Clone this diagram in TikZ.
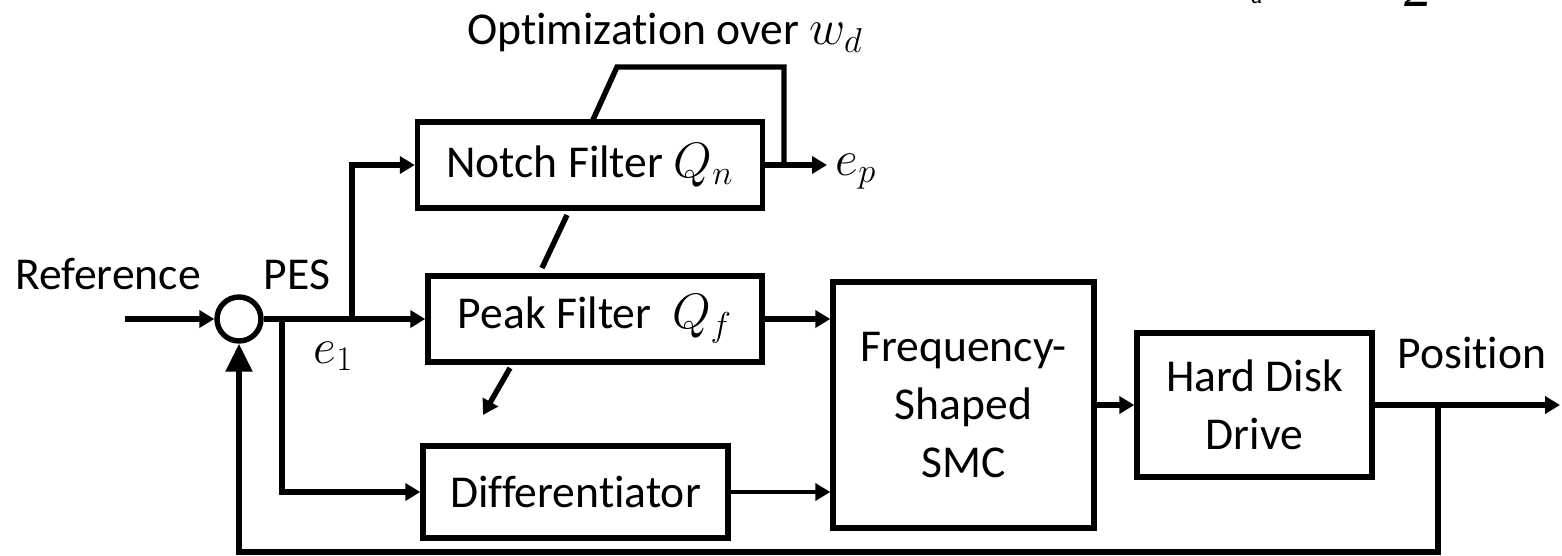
\documentclass[tikz,border=0pt]{standalone}
\usepackage{fontspec}
\setmainfont{Carlito}[Ligatures=NoCommon]
\newfontfamily\serifface{Liberation Serif}
\usetikzlibrary{arrows.meta}
% math symbols set a little larger than the surrounding text
\newcommand{\mv}[1]{{\fontsize{24.5}{29}\selectfont$#1$}}
\begin{document}
\begin{tikzpicture}[x=0.5pt,y=-0.5pt,
  line width=2.7pt,
  lbl/.style={font=\fontsize{22.8}{29}\selectfont, inner sep=0pt},
  blk/.style={draw, rectangle, line width=2.7pt, inner sep=0pt, align=center,
              font=\fontsize{22.8}{29}\selectfont},
  sig/.style={-{Triangle[length=7.5pt,width=8.5pt]}},
  fbtip/.style={-{Triangle[length=14pt,width=13pt]}}]
\useasboundingbox (0,0) rectangle (1562,556);

% blocks
\node[blk, minimum width=172.5pt, minimum height=43pt] (notch) at (590,165) {Notch Filter \mv{Q_n}};
\node[blk, minimum width=167pt, minimum height=43pt] (peak) at (595,319) {Peak Filter\ \ \mv{Q_f}};
\node[blk, minimum width=152.5pt, minimum height=46pt] (diff) at (575.5,492) {Differentiator};
\node[blk, minimum width=130.5pt, minimum height=123pt] (smc) at (963.5,405) {Frequency-\\Shaped\\SMC};
\node[blk, minimum width=117.5pt, minimum height=72pt] (hdd) at (1254.5,405) {Hard Disk\\Drive};
\node[draw, circle, minimum size=22pt, inner sep=0pt, line width=2.7pt] (sum) at (239,319) {};

% branch points and free ends
\coordinate (refin) at (125,319);
\coordinate (e1tap) at (282,319);
\coordinate (ntap) at (352,319);
\coordinate (ep) at (827,165);
\coordinate (fb) at (1438,405);
\coordinate (fbl) at (239,552);
\coordinate (out) at (1560,405);
\coordinate (opt1) at (592,122);
\coordinate (opt2) at (617,67);
\coordinate (opt3) at (784,67);
\coordinate (opt4) at (784,165);

% signal paths
\draw[sig] (refin) -- (sum.west);
\draw[sig] (sum.east) -- (sum.east -| peak.west);
\draw[sig] (ntap) -- (ntap |- notch.west) -- (notch.west);
\draw[sig] (e1tap) -- (e1tap |- diff.west) -- (diff.west);
\draw[sig] (notch.east) -- (ep);
\draw[sig] (peak.east) -- (peak.east -| smc.west);
\draw[sig, line width=1.8pt] (diff.east) -- (diff.east -| smc.west);
\draw[sig] (smc.east) -- (hdd.west);
\draw[sig] (hdd.east) -- (out);
\draw[fbtip] (fb) -- (fb |- fbl) -- (fbl) -- (sum.south);

% optimization loop and parameter links
\draw (opt1) -- (opt2) -- (opt3) -- (opt4);
\draw (567,215) -- (542,268);
\draw[sig] (510,368) -- (483,415);

% labels
\node[lbl, anchor=base] at (108,289) {Reference};
\node[lbl, anchor=base] at (297,289) {PES};
\node[lbl, anchor=base west] at (311,363) {\mv{e_1}};
\node[lbl, anchor=base] at (665,45) {Optimization over \mv{w_d}};
\node[lbl, anchor=base west] at (833,175) {\mv{e_p}};
\node[lbl, anchor=base] at (1472,368) {Position};

% formula pieces at the top edge
\begin{scope}
\clip (0,0) rectangle (1562,556);
\node[anchor=base, inner sep=0pt, font=\serifface\itshape\fontsize{12}{14}\selectfont] at (1257,4) {d};
\node[anchor=base, inner sep=0pt, font=\serifface\itshape\fontsize{28}{30}\selectfont] at (1418,7) {2};
\end{scope}
\end{tikzpicture}
\end{document}
